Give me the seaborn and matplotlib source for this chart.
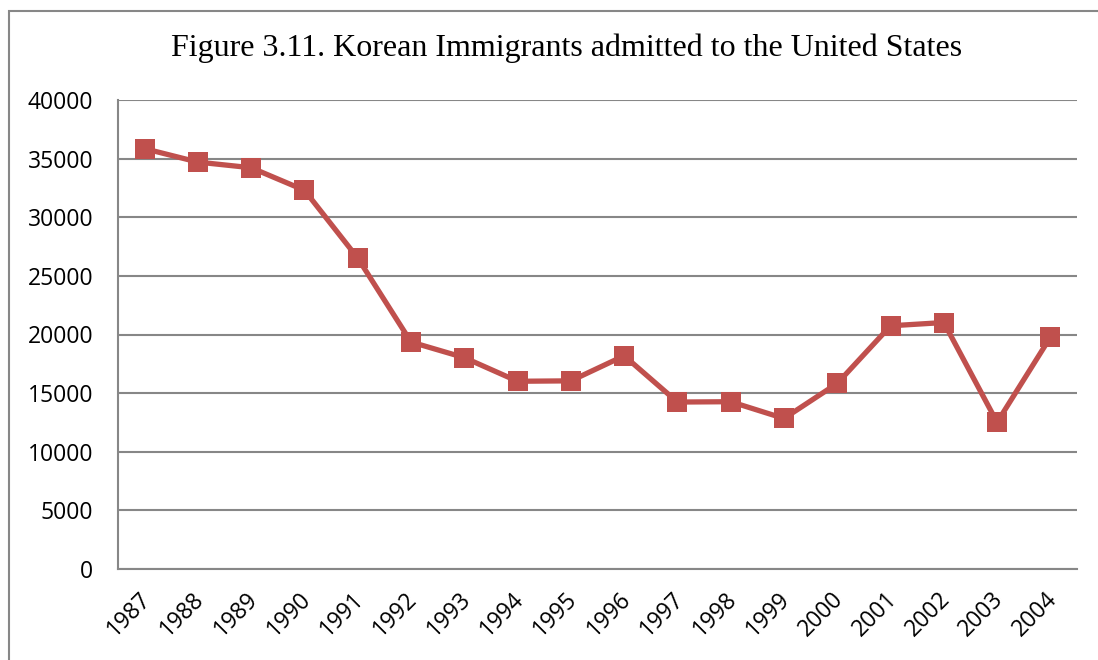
import matplotlib
matplotlib.use("Agg")
import matplotlib.pyplot as plt
import matplotlib.transforms as mtransforms
import seaborn as sns
import pandas as pd
from matplotlib.patches import Rectangle
from matplotlib.ticker import FixedLocator

# Data
years = [1987, 1988, 1989, 1990, 1991, 1992, 1993, 1994, 1995,
         1996, 1997, 1998, 1999, 2000, 2001, 2002, 2003, 2004]
immigrants = [35849, 34703, 34222, 32301, 26518, 19359, 18026, 16011, 16047,
              18185, 14239, 14268, 12840, 15830, 20742, 21021, 12512, 19766]
yticks = [0, 5000, 10000, 15000, 20000, 25000, 30000, 35000, 40000]
title = "Figure 3.11. Korean Immigrants admitted to the United States"

df = pd.DataFrame({"Year": years, "Immigrants": immigrants})

sns.set_style("white")
plt.rcParams["font.family"] = ["Open Sans", "DejaVu Sans"]

grey = "#878787"
fig = plt.figure(figsize=(10.98, 6.6), dpi=100)
ax = fig.add_axes([118 / 1098, 1 - 569 / 660, (1077 - 118) / 1098, (569 - 100) / 660])

sns.lineplot(data=df, x="Year", y="Immigrants", ax=ax, color="#C0504D",
             linewidth=3.8, marker="s", markersize=15, markeredgewidth=0,
             zorder=3)

ax.set_xlim(years[0] - 0.5, years[-1] + 0.5)
ax.set_ylim(0, 40000)
ax.set_yticks(yticks)
ax.set_yticklabels([str(t) for t in yticks], fontsize=16.5)
ax.set_xticks(years)
ax.set_xticklabels([str(y) for y in years], fontsize=16.5, rotation=45,
                   ha="right", va="top", rotation_mode="anchor")
ax.xaxis.set_minor_locator(FixedLocator([y - 0.5 for y in years] + [years[-1] + 0.5]))
ax.tick_params(axis="x", which="major", length=0, pad=13)
ax.tick_params(axis="x", which="minor", length=5.8, width=1.5, color=grey, direction="out")
ax.tick_params(axis="y", which="major", length=5.8, width=1.5, color=grey, direction="out", pad=12)
ax.tick_params(labelcolor="black")

# nudge the rotated year labels a little to the left
shift = mtransforms.ScaledTranslation(-4 / 72, 0, fig.dpi_scale_trans)
for lbl in ax.get_xticklabels():
    lbl.set_transform(lbl.get_transform() + shift)

ax.grid(axis="y", color=grey, linewidth=1.5)
ax.grid(axis="x", visible=False)
for side in ["top", "right"]:
    ax.spines[side].set_visible(False)
for side in ["left", "bottom"]:
    ax.spines[side].set_color(grey)
    ax.spines[side].set_linewidth(1.5)
ax.set_xlabel("")
ax.set_ylabel("")

fig.text(567 / 1098, 1 - 48 / 660, title, ha="center", va="center", color="black",
         fontsize=23, family=["Liberation Serif", "DejaVu Serif"])

# outer chart border (cropped on the right and bottom)
fig.patches.append(Rectangle((9 / 1098, -0.1), 1.2, 1.1 - 11 / 660,
                             transform=fig.transFigure, fill=False,
                             edgecolor=grey, linewidth=1.5))

fig.savefig("out.png", dpi=100)
